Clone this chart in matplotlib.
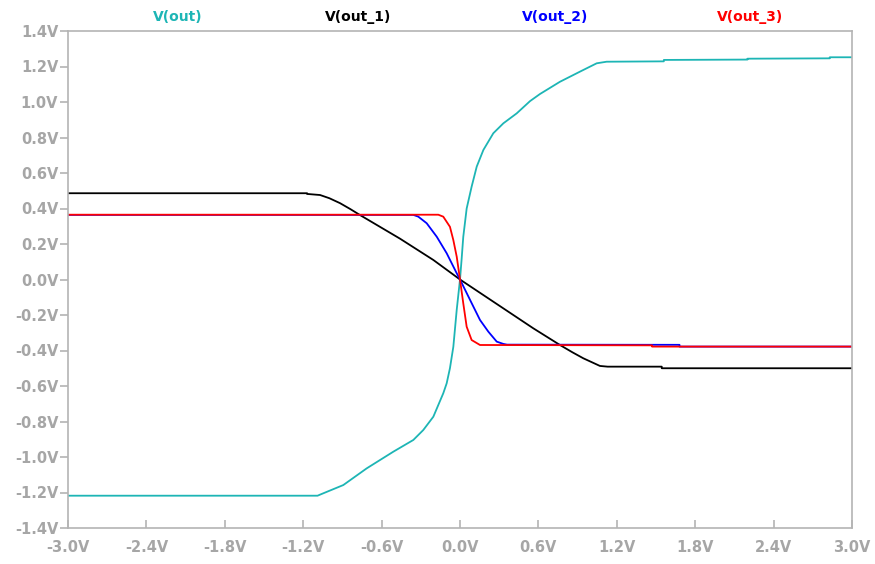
import matplotlib
matplotlib.use("Agg")
import matplotlib.pyplot as plt
import matplotlib.ticker

# V(out)
out_x = [-3.0, -1.09, -1.071, -0.893, -0.714, -0.51, -0.357, -0.281, -0.204, -0.128,
         -0.102, -0.077, -0.051, -0.025, 0.0, 0.013, 0.025, 0.051, 0.089, 0.128, 0.179,
         0.255, 0.332, 0.434, 0.536, 0.612, 0.765, 0.918, 1.046, 1.122,
         1.56, 1.56, 2.20, 2.20, 2.83, 2.83, 3.0]
out_y = [-1.218, -1.218, -1.212, -1.158, -1.064, -0.970, -0.904, -0.848, -0.773, -0.641,
         -0.585, -0.50, -0.379, -0.17, 0.0, 0.12, 0.24, 0.40, 0.523, 0.636, 0.73,
         0.824, 0.88, 0.936, 1.005, 1.045, 1.114, 1.171, 1.218, 1.227,
         1.229, 1.237, 1.239, 1.244, 1.246, 1.252, 1.252]

# V(out_1)
out1_x = [-3.0, -1.17, -1.17, -1.071, -1.0, -0.918, -0.84, -0.765, -0.459, -0.204, 0.0,
          0.306, 0.561, 0.765, 0.86, 0.944, 1.071, 1.13, 1.544, 1.544, 3.0]
out1_y = [0.486, 0.486, 0.482, 0.476, 0.458, 0.43, 0.397, 0.363, 0.23, 0.11, 0.0,
          -0.15, -0.275, -0.369, -0.41, -0.444, -0.487, -0.491, -0.491, -0.50, -0.50]

# V(out_2)
out2_x = [-3.0, -0.357, -0.319, -0.255, -0.178, -0.102, -0.025, 0.0, 0.077, 0.153,
          0.217, 0.281, 0.332, 0.36, 1.68, 1.68, 3.0]
out2_y = [0.364, 0.364, 0.354, 0.317, 0.241, 0.148, 0.035, 0.0, -0.115, -0.228,
          -0.294, -0.35, -0.363, -0.367, -0.368, -0.378, -0.378]

# V(out_3)
out3_x = [-3.0, -0.166, -0.128, -0.077, -0.051, -0.025, 0.0, 0.025, 0.051, 0.089,
          0.153, 1.47, 1.47, 3.0]
out3_y = [0.365, 0.365, 0.354, 0.297, 0.222, 0.128, 0.0, -0.134, -0.266, -0.341,
          -0.369, -0.371, -0.378, -0.378]

names = ["V(out)", "V(out_1)", "V(out_2)", "V(out_3)"]
colors = ["#1db5b5", "#000000", "#0000ff", "#ff0000"]
label_x = [178, 358, 555, 750]  # header label centres, pixels

x_ticks = [-3.0, -2.4, -1.8, -1.2, -0.6, 0.0, 0.6, 1.2, 1.8, 2.4, 3.0]
y_ticks = [-1.4, -1.2, -1.0, -0.8, -0.6, -0.4, -0.2, 0.0, 0.2, 0.4, 0.6, 0.8, 1.0, 1.2, 1.4]

W, H = 875, 564
fig = plt.figure(figsize=(W / 100, H / 100), dpi=100)
ax = fig.add_axes([68 / W, 1 - 528 / H, (852 - 68) / W, (528 - 31) / H])

series = [(out_x, out_y), (out1_x, out1_y), (out2_x, out2_y), (out3_x, out3_y)]
for (xs, ys), c in zip(series, colors):
    ax.plot(xs, ys, color=c, linewidth=1.3)

ax.set_xlim(-3.0, 3.0)
ax.set_ylim(-1.4, 1.4)
ax.set_xticks(x_ticks)
ax.set_yticks(y_ticks)
fmt = matplotlib.ticker.FuncFormatter(lambda v, p: f"{v:.1f}V".replace("-0.0", "0.0"))
ax.xaxis.set_major_formatter(fmt)
ax.yaxis.set_major_formatter(fmt)

grey = "#b4b4b4"
for s in ax.spines.values():
    s.set_color(grey)
    s.set_linewidth(1.2)
tick_font = {"family": "DejaVu Sans", "weight": "bold", "size": 10.5}
ax.tick_params(axis="x", direction="in", length=6, width=1.2, color=grey,
               labelcolor="#a6a6a6", pad=9)
ax.tick_params(axis="y", direction="out", length=6, width=1.2, color=grey,
               labelcolor="#a6a6a6", pad=1)
for lab in ax.get_xticklabels() + ax.get_yticklabels():
    lab.set_fontproperties(tick_font)

for name, c, lx in zip(names, colors, label_x):
    fig.text(lx / W, 1 - 17 / H, name, color=c, ha="center", va="center",
             family="DejaVu Sans", weight="bold", fontsize=10)

fig.savefig("out.png", dpi=100)
